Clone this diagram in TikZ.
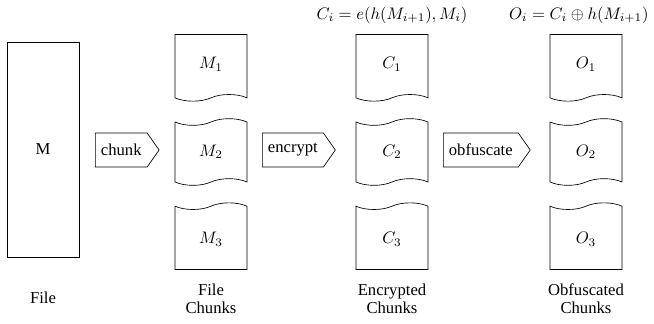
\documentclass[tikz,border=0pt]{standalone}
\usepackage{fontspec}
\setmainfont{Liberation Serif}
\usetikzlibrary{shapes.symbols}
\begin{document}
\begin{tikzpicture}[x=0.6pt,y=-0.6pt,
  every node/.style={font=\fontsize{10}{11}\selectfont},
  filebox/.style={draw, minimum width=43.2pt, minimum height=129pt, inner sep=0pt},
  chunkbox/.style={draw, tape, minimum width=43.2pt, minimum height=40pt, tape bend height=4pt},
  firstchunk/.style={chunkbox, tape bend top=none},
  lastchunk/.style={chunkbox, tape bend bottom=none},
  action/.style={draw, signal, signal to=east, signal pointer angle=110,
    minimum height=20.4pt, anchor=west},
  caption/.style={align=center, inner sep=0pt},
  formula/.style={inner sep=0pt}]
\useasboundingbox (0,0) rectangle (654,323);

% whole file
\node[filebox] (file) at (43,149.5) {M};
\node[caption] (filelbl) at (43,298) {File};

% chunking step
\node[action] (chunk) at (95,150) {chunk};
\node[firstchunk] (m1) at (211,64.5) {$M_1$};
\node[chunkbox] (m2) at (211,152) {$M_2$};
\node[lastchunk] (m3) at (211,239.5) {$M_3$};
\node[caption] (mlbl) at (211,299) {File\\Chunks};

% encryption step
\node[action] (encrypt) at (262,150) {encrypt};
\node[formula] (cformula) at (392,15) {$C_i = e(h(M_{i+1}),M_i)$};
\node[firstchunk] (c1) at (392,64.5) {$C_1$};
\node[chunkbox] (c2) at (392,152) {$C_2$};
\node[lastchunk] (c3) at (392,239.5) {$C_3$};
\node[caption] (clbl) at (392,299) {Encrypted\\Chunks};

% obfuscation step
\node[action] (obfuscate) at (443,150) {obfuscate};
\node[formula, anchor=east] (oformula) at (649,15) {$O_i = C_i \oplus h(M_{i+1})$};
\node[firstchunk] (o1) at (586,64.5) {$O_1$};
\node[chunkbox] (o2) at (586,152) {$O_2$};
\node[lastchunk] (o3) at (586,239.5) {$O_3$};
\node[caption] (olbl) at (586,299) {Obfuscated\\Chunks};
\end{tikzpicture}
\end{document}
